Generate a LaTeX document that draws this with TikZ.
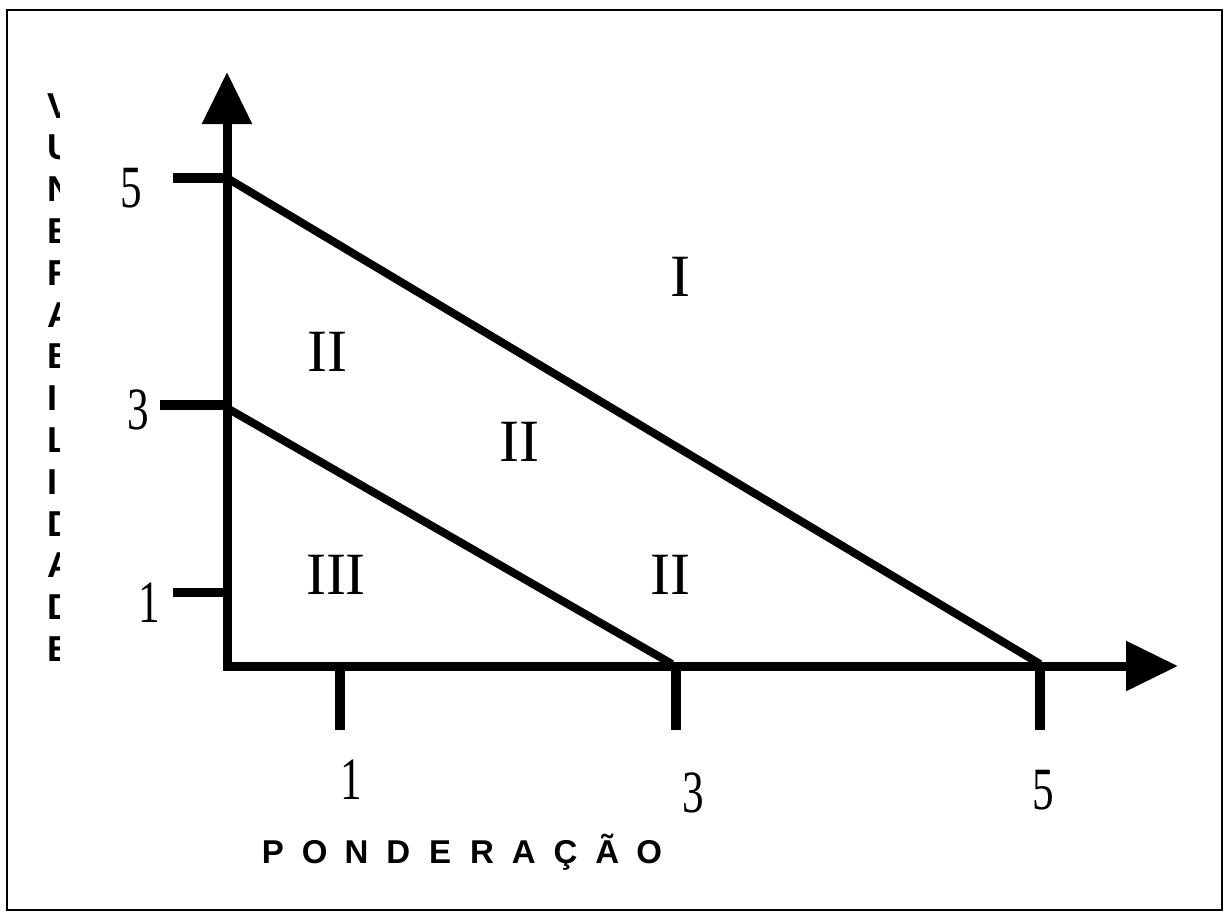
\documentclass[tikz,border=0pt]{standalone}
\usepackage{fontspec}
\setmainfont{Liberation Serif}
\setsansfont{Liberation Sans}
\usetikzlibrary{arrows.meta}
\tikzset{
  frame/.style={line width=2pt},
  axisline/.style={line width=9pt,-{Triangle[width=48pt,length=52pt]}},
  tickline/.style={line width=10pt},
  diag/.style={line width=8pt},
  num/.style={font=\fontsize{60}{60}\selectfont,inner sep=0pt,xscale=0.72},
  roman/.style={font=\fontsize{60}{60}\selectfont,inner sep=0pt},
  plet/.style={font=\sffamily\bfseries\fontsize{33}{33}\selectfont,inner sep=0pt,anchor=base},
  vlet/.style={font=\sffamily\bfseries\fontsize{36}{36}\selectfont,inner sep=0pt,anchor=base west},
}
\begin{document}
\begin{tikzpicture}[x=1pt,y=-1pt]
\useasboundingbox (0,0) rectangle (1225,914);
\draw[frame] (7,10) rectangle (1222,910);

% axes
\coordinate (O) at (227,666);
\coordinate (Ostart) at (222.5,666);
\coordinate (Ytip) at (227,72);
\coordinate (Xtip) at (1178,666);
\draw[axisline] (227,670.5) -- (Ytip);
\draw[axisline] (Ostart) -- (Xtip);

% y ticks
\coordinate (y5a) at (173,178); \coordinate (y5b) at (227,178);
\coordinate (y3a) at (160,405); \coordinate (y3b) at (227,405);
\coordinate (y1a) at (173,592); \coordinate (y1b) at (227,592);
\draw[tickline] (y5a) -- (y5b);
\draw[tickline] (y3a) -- (y3b);
\draw[tickline,line width=9pt] (y1a) -- (y1b);

% x ticks
\coordinate (x1a) at (340,666); \coordinate (x1b) at (340,730);
\coordinate (x3a) at (676,666); \coordinate (x3b) at (676,730);
\coordinate (x5a) at (1040,666); \coordinate (x5b) at (1040,730);
\draw[tickline] (x1a) -- (x1b);
\draw[tickline] (x3a) -- (x3b);
\draw[tickline] (x5a) -- (x5b);

% diagonals
\coordinate (d5) at (227,178);
\coordinate (d5x) at (1040,664);
\coordinate (d3) at (227,408);
\coordinate (d3x) at (672,664);
\draw[diag] (d5) -- (d5x);
\draw[diag] (d3) -- (d3x);

% tick labels
\node[num] (ly5) at (131,188) {5};
\node[num] (ly3) at (138,410) {3};
\node[num] (ly1) at (149,603) {1};
\node[num] (lx1) at (351,780) {1};
\node[num] (lx3) at (693,793) {3};
\node[num] (lx5) at (1043,790) {5};

% region labels
\node[roman] (rI) at (680,277) {I};
\node[roman] (rIIa) at (327,352) {II};
\node[roman] (rIIb) at (519,442) {II};
\node[roman] (rIII) at (336,575) {III};
\node[roman] (rIIc) at (670,575) {II};

% x axis title
\foreach \ch [count=\i from 0] in {P,O,N,D,E,R,A,Ç,Ã,O}{
  \node[plet] (p\i) at (273+41.8*\i,863) {\ch};
}

% y axis title (clipped letters)
\begin{scope}
\clip (0,0) rectangle (59,914);
\foreach \ch [count=\i from 0] in {V,U,N,E,R,A,B,I,L,I,D,A,D,E}{
  \node[vlet] (v\i) at (47,118+41.8*\i) {\ch};
}
\end{scope}
\end{tikzpicture}
\end{document}
